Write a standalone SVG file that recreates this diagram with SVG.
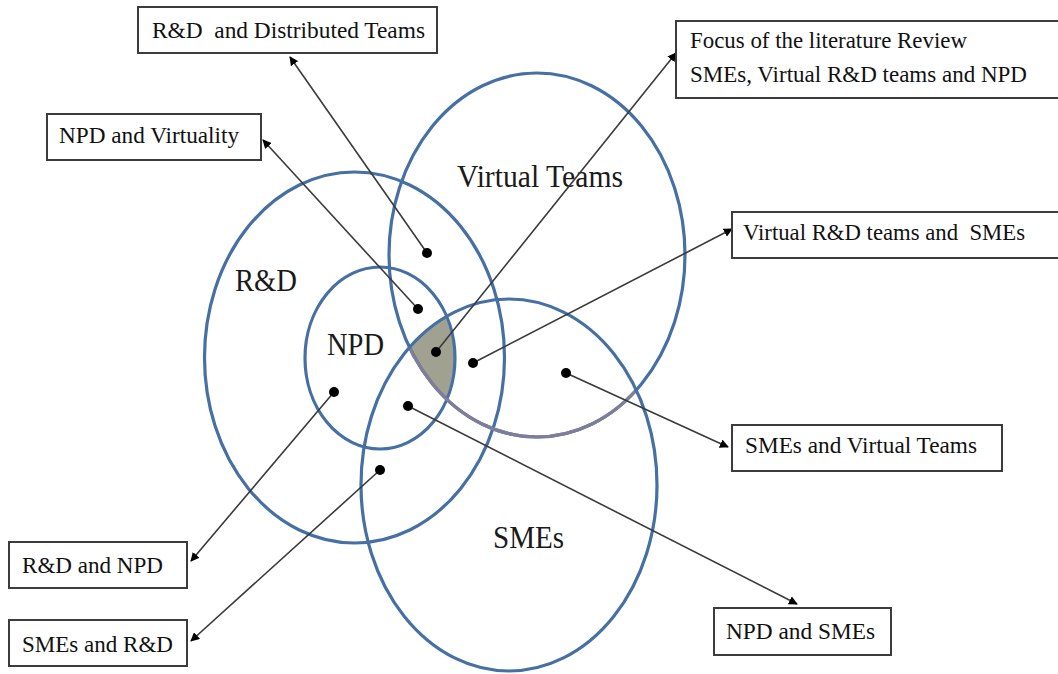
<svg xmlns="http://www.w3.org/2000/svg" width="1058" height="674" viewBox="0 0 1058 674">
<style>
.circ{fill:none;stroke:#4670a3;stroke-width:3.2}
.box rect{fill:#fff;stroke:#3c3c3c;stroke-width:2}
.box text{font-family:"Liberation Serif","Times New Roman",serif;font-size:23px;fill:#111}
.lbl{font-family:"Liberation Serif","Times New Roman",serif;font-size:32px;fill:#1a1a1a}
.con{stroke:#3a3a3a;stroke-width:1.6;fill:none;marker-end:url(#ah)}
.dot{fill:#000}
</style>
<defs>
<marker id="ah" viewBox="0 0 10 10" refX="9" refY="5" markerWidth="9" markerHeight="9" markerUnits="userSpaceOnUse" orient="auto">
<path d="M0,0 L10,5 L0,10 z" fill="#000"/>
</marker>
<clipPath id="cNPD"><ellipse cx="380" cy="358" rx="75" ry="91"/></clipPath>
<clipPath id="cVT"><ellipse cx="537" cy="255" rx="148" ry="182"/></clipPath>
<clipPath id="cSME"><ellipse cx="509" cy="485" rx="148" ry="186"/></clipPath>
</defs>
<rect width="1058" height="674" fill="#fff"/>

<g id="focus-area">
<g clip-path="url(#cNPD)"><g clip-path="url(#cVT)">
<ellipse cx="509" cy="485" rx="148" ry="186" fill="#a0a190"/>
</g></g>
</g>

<g id="circle-rd"><ellipse class="circ" cx="354.5" cy="357.5" rx="150" ry="185.5"/><text class="lbl" x="235" y="291" textLength="62" lengthAdjust="spacingAndGlyphs">R&amp;D</text></g>
<g id="circle-npd"><ellipse class="circ" cx="380" cy="358" rx="75" ry="91"/><text class="lbl" x="327" y="355" textLength="57" lengthAdjust="spacingAndGlyphs">NPD</text></g>
<g id="circle-vt"><ellipse class="circ" cx="537" cy="255" rx="148" ry="182"/>
<g clip-path="url(#cSME)"><ellipse cx="537" cy="255" rx="148" ry="182" fill="none" stroke="#7f7d98" stroke-width="3.2"/></g>
<text class="lbl" x="457" y="187" textLength="166" lengthAdjust="spacingAndGlyphs">Virtual Teams</text></g>
<g id="circle-smes"><ellipse class="circ" cx="509" cy="485" rx="148" ry="186"/><text class="lbl" x="493" y="548" textLength="71" lengthAdjust="spacingAndGlyphs">SMEs</text></g>

<g id="connectors">
<line class="con" x1="427" y1="253" x2="290" y2="57"/>
<line class="con" x1="418" y1="309" x2="263" y2="140"/>
<line class="con" x1="436" y1="352" x2="676" y2="53"/>
<line class="con" x1="473" y1="363" x2="732" y2="229"/>
<line class="con" x1="566" y1="373" x2="728" y2="447"/>
<line class="con" x1="408" y1="406" x2="797" y2="604"/>
<line class="con" x1="334" y1="392" x2="191" y2="561"/>
<line class="con" x1="380" y1="470" x2="191" y2="641"/>
</g>
<g id="dots">
<circle class="dot" cx="427" cy="253" r="5"/>
<circle class="dot" cx="418" cy="309" r="5"/>
<circle class="dot" cx="436" cy="352" r="5"/>
<circle class="dot" cx="473" cy="363" r="5"/>
<circle class="dot" cx="566" cy="373" r="5"/>
<circle class="dot" cx="408" cy="406" r="5"/>
<circle class="dot" cx="334" cy="392" r="5"/>
<circle class="dot" cx="380" cy="470" r="5"/>
</g>

<g id="box-rd-distributed" class="box"><rect x="138" y="7" width="299" height="46"/><text x="152" y="38" textLength="273" lengthAdjust="spacingAndGlyphs" xml:space="preserve">R&amp;D  and Distributed Teams</text></g>
<g id="box-npd-virtuality" class="box"><rect x="47" y="114" width="214" height="46"/><text x="59" y="143" textLength="180" lengthAdjust="spacingAndGlyphs">NPD and Virtuality</text></g>
<g id="box-focus" class="box"><rect x="676" y="21" width="390" height="77"/><text x="690" y="48" textLength="277" lengthAdjust="spacingAndGlyphs">Focus of the literature Review</text><text x="690" y="82" textLength="337" lengthAdjust="spacingAndGlyphs">SMEs, Virtual R&amp;D teams and NPD</text></g>
<g id="box-vrd-smes" class="box"><rect x="732" y="212" width="330" height="46"/><text x="743" y="240" textLength="282" lengthAdjust="spacingAndGlyphs" xml:space="preserve">Virtual R&amp;D teams and  SMEs</text></g>
<g id="box-smes-vt" class="box"><rect x="732" y="425" width="270" height="46"/><text x="745" y="453" textLength="232" lengthAdjust="spacingAndGlyphs">SMEs and Virtual Teams</text></g>
<g id="box-rd-npd" class="box"><rect x="9" y="542" width="178" height="46"/><text x="22" y="573" textLength="141" lengthAdjust="spacingAndGlyphs">R&amp;D and NPD</text></g>
<g id="box-smes-rd" class="box"><rect x="9" y="620" width="178" height="46"/><text x="22" y="652" textLength="151" lengthAdjust="spacingAndGlyphs">SMEs and R&amp;D</text></g>
<g id="box-npd-smes" class="box"><rect x="714" y="608" width="177" height="47"/><text x="726" y="639" textLength="149" lengthAdjust="spacingAndGlyphs">NPD and SMEs</text></g>
</svg>
